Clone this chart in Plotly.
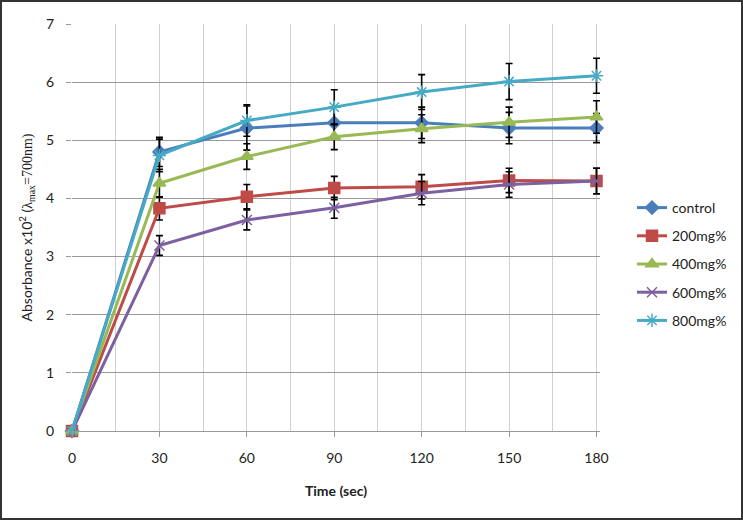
import plotly.graph_objects as go

time_sec = [0, 30, 60, 90, 120, 150, 180]
series_names = ["control", "200mg%", "400mg%", "600mg%", "800mg%"]
control = [0, 4.80, 5.21, 5.30, 5.30, 5.21, 5.21]
mg200 = [0, 3.83, 4.03, 4.18, 4.20, 4.31, 4.30]
mg400 = [0, 4.26, 4.72, 5.06, 5.20, 5.31, 5.40]
mg600 = [0, 3.19, 3.63, 3.84, 4.09, 4.24, 4.30]
mg800 = [0, 4.74, 5.34, 5.57, 5.83, 6.01, 6.11]
err_control = [0, 0.25, 0.38, 0.27, 0.27, 0.27, 0.25]
err_200 = [0, 0.20, 0.21, 0.20, 0.21, 0.21, 0.22]
err_400 = [0, 0.24, 0.22, 0.22, 0.24, 0.26, 0.28]
err_600 = [0, 0.17, 0.17, 0.18, 0.20, 0.22, 0.22]
err_800 = [0, 0.28, 0.27, 0.30, 0.30, 0.31, 0.30]

values = [control, mg200, mg400, mg600, mg800]
errors = [err_control, err_200, err_400, err_600, err_800]
colors = ["#4A7EBB", "#BE4B48", "#98B954", "#7D60A0", "#46AAC5"]
symbols = ["diamond", "square", "triangle-up", "x-thin-open", "asterisk-open"]
sizes = [10, 11, 11, 10, 11]

W, H = 743, 520
XMAX = 181.2
ML, MT, MB = 72, 24, 89
PW = round(525 * XMAX / 180)
MR = W - ML - PW
PH = H - MT - MB

fig = go.Figure()
for name, v, e, c, s, sz in zip(series_names, values, errors, colors, symbols, sizes):
    fig.add_trace(go.Scatter(
        x=time_sec, y=v, name=name, mode="lines+markers",
        line=dict(color=c, width=3),
        marker=dict(symbol=s, size=sz, color=c, line=dict(color=c, width=1.5)),
        error_y=dict(type="data", array=e, visible=True, color="black",
                     thickness=1.6, width=3.5),
        cliponaxis=False,
        legendgroup=name,
    ))

font_family = "Lato, Liberation Sans, sans-serif"

fig.update_layout(
    width=W, height=H,
    margin=dict(l=ML, r=MR, t=MT, b=MB, autoexpand=False),
    paper_bgcolor="white", plot_bgcolor="white",
    font=dict(family=font_family, size=14, color="#222"),
    showlegend=True,
    legend=dict(x=(632 - ML) / PW, y=(H - MB - 192) / PH, xanchor="left", yanchor="top",
                font=dict(size=14, color="#222"), traceorder="grouped",
                tracegroupgap=7, bgcolor="rgba(0,0,0,0)"),
    xaxis=dict(
        range=[0, XMAX], tickvals=[0, 30, 60, 90, 120, 150, 180],
        showgrid=True, gridcolor="#CFCFCF", gridwidth=1.2,
        minor=dict(tickvals=[15, 45, 75, 105, 135, 165], showgrid=True,
                   gridcolor="#CFCFCF", gridwidth=1.2),
        ticks="outside", ticklen=5, tickcolor="#9A9A9A",
        showline=True, linecolor="#9A9A9A", linewidth=1.2,
        zeroline=False, ticklabelstandoff=9,
        title=dict(text="<b>Time (sec)</b>", font=dict(size=14), standoff=21),
    ),
    yaxis=dict(
        range=[0, 7], dtick=1,
        showgrid=True, gridcolor="#9A9A9A", gridwidth=1.2,
        ticks="outside", ticklen=5, tickcolor="#9A9A9A",
        showline=False, zeroline=False, ticklabelstandoff=9,
        title=dict(text="Absorbance x10<sup>2</sup> (<span style='font-family:Liberation Serif'>λ<sub>max</sub>=700nm)</span>",
                   font=dict(size=14), standoff=10),
    ),
)

# outer frame around the whole picture
fig.add_shape(type="rect", xref="paper", yref="paper",
              x0=(1 - ML) / PW, x1=(W - 1 - ML) / PW,
              y0=-(MB - 1) / PH, y1=1 + (MT - 1) / PH,
              line=dict(color="#333333", width=2), fillcolor="rgba(0,0,0,0)", layer="below")

fig.write_html("out.html", config={"displayModeBar": False},
               post_script="document.body.style.margin='0';document.body.style.overflow='hidden';")
